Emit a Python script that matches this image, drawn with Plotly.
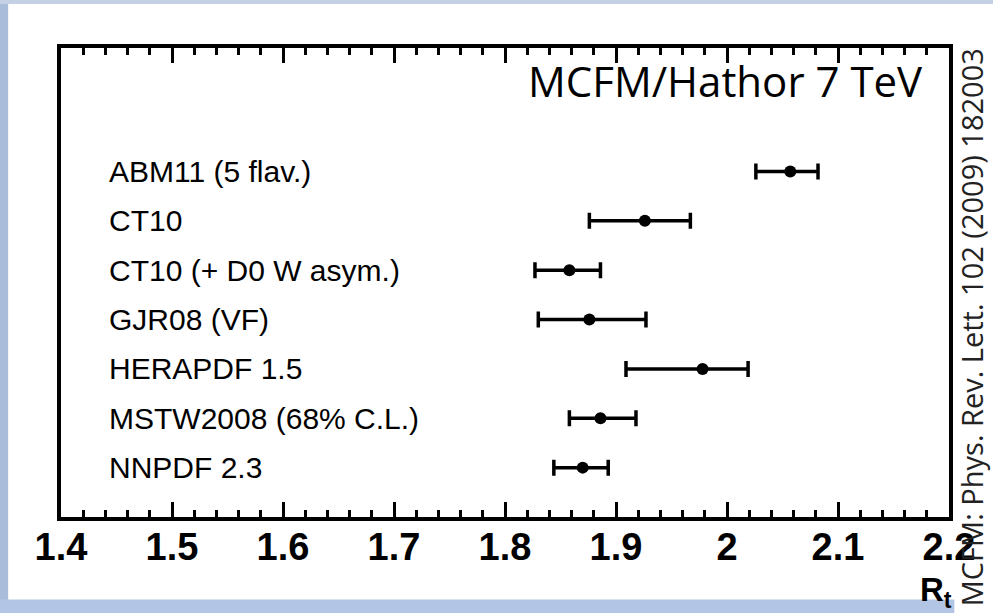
import plotly.graph_objects as go

# PDF sets and their predicted R_t (central value with lower/upper uncertainty edges)
pdf_sets = [
    "ABM11 (5 flav.)",
    "CT10",
    "CT10 (+ D0 W asym.)",
    "GJR08 (VF)",
    "HERAPDF 1.5",
    "MSTW2008 (68% C.L.)",
    "NNPDF 2.3",
]
rt_central = [2.057, 1.926, 1.858, 1.876, 1.978, 1.886, 1.870]
rt_low = [2.026, 1.876, 1.827, 1.830, 1.909, 1.858, 1.844]
rt_high = [2.082, 1.967, 1.886, 1.927, 2.019, 1.918, 1.893]

x_ticks = [1.4, 1.5, 1.6, 1.7, 1.8, 1.9, 2.0, 2.1, 2.2]
x_tick_text = ["1.4", "1.5", "1.6", "1.7", "1.8", "1.9", "2", "2.1", "2.2"]

# rows counted from the bottom: first set on top
row_pos = [len(pdf_sets) - i for i in range(len(pdf_sets))]
err_plus = [h - c for h, c in zip(rt_high, rt_central)]
err_minus = [c - l for l, c in zip(rt_low, rt_central)]

fig = go.Figure()
fig.add_trace(go.Scatter(
    x=rt_central,
    y=row_pos,
    mode="markers",
    marker=dict(color="black", size=12, symbol="circle"),
    error_x=dict(type="data", symmetric=False, array=err_plus, arrayminus=err_minus,
                 color="black", thickness=3.5, width=8),
    showlegend=False,
    hoverinfo="skip",
))

label_font = dict(family="Liberation Sans, Arial, sans-serif", size=30, color="black")
for name, yv in zip(pdf_sets, row_pos):
    fig.add_annotation(x=0.052, xref="paper", y=yv, yref="y", text=name,
                       showarrow=False, xanchor="left", yanchor="middle", font=label_font)

fig.add_annotation(x=0.973, xref="paper", y=0.93, yref="paper",
                   text="MCFM/Hathor 7 TeV", showarrow=False,
                   xanchor="right", yanchor="middle",
                   font=dict(family="Open Sans, Carlito, sans-serif", size=42, color="black"))

fig.add_annotation(x=0.985, xref="paper", y=-0.16, yref="paper",
                   text="<b>R<sub>t</sub></b>", showarrow=False,
                   xanchor="center", yanchor="middle",
                   font=dict(family="Liberation Sans, Arial, sans-serif", size=33, color="black"))

fig.add_annotation(x=1.025, xref="paper", y=0.405, yref="paper",
                   text="MCFM: Phys. Rev. Lett. 102 (2009) 182003", textangle=-90,
                   showarrow=False, xanchor="center", yanchor="middle",
                   font=dict(family="Open Sans, Carlito, sans-serif", size=29, color="#222222"))

# slide-style pale blue edges around the chart
fig.add_shape(type="rect", xref="paper", yref="paper", x0=-0.07, x1=-0.0595, y0=-0.22, y1=1.11,
              fillcolor="#a9bcda", line_width=0, layer="below")
fig.add_shape(type="rect", xref="paper", yref="paper", x0=-0.07, x1=1.06, y0=1.094, y1=1.11,
              fillcolor="#c4d0e4", line_width=0, layer="below")
fig.add_shape(type="rect", xref="paper", yref="paper", x0=-0.07, x1=1.006, y0=-0.22, y1=-0.176,
              fillcolor="#b3c5e4", line_width=0, layer="below")

fig.update_xaxes(
    range=[1.4, 2.2],
    tickvals=x_ticks,
    ticktext=x_tick_text,
    ticks="inside",
    ticklen=15,
    tickwidth=3,
    tickcolor="black",
    showline=True,
    linewidth=3.5,
    linecolor="black",
    mirror="allticks",
    showgrid=False,
    zeroline=False,
    ticklabelstandoff=-6,
    tickfont=dict(family="Liberation Sans, Arial, sans-serif",
                  size=38, color="black", weight="bold"),
    minor=dict(dtick=0.02, ticks="inside", ticklen=7, tickwidth=3, tickcolor="black",
               showgrid=False),
)
fig.update_yaxes(
    range=[0, 9.5],
    showticklabels=False,
    ticks="",
    showline=True,
    linewidth=3.5,
    linecolor="black",
    mirror=True,
    showgrid=False,
    zeroline=False,
)

fig.update_layout(
    width=993,
    height=613,
    margin=dict(l=61, r=44, t=48, b=96),
    paper_bgcolor="white",
    plot_bgcolor="white",
)

fig.write_html("out.html")
